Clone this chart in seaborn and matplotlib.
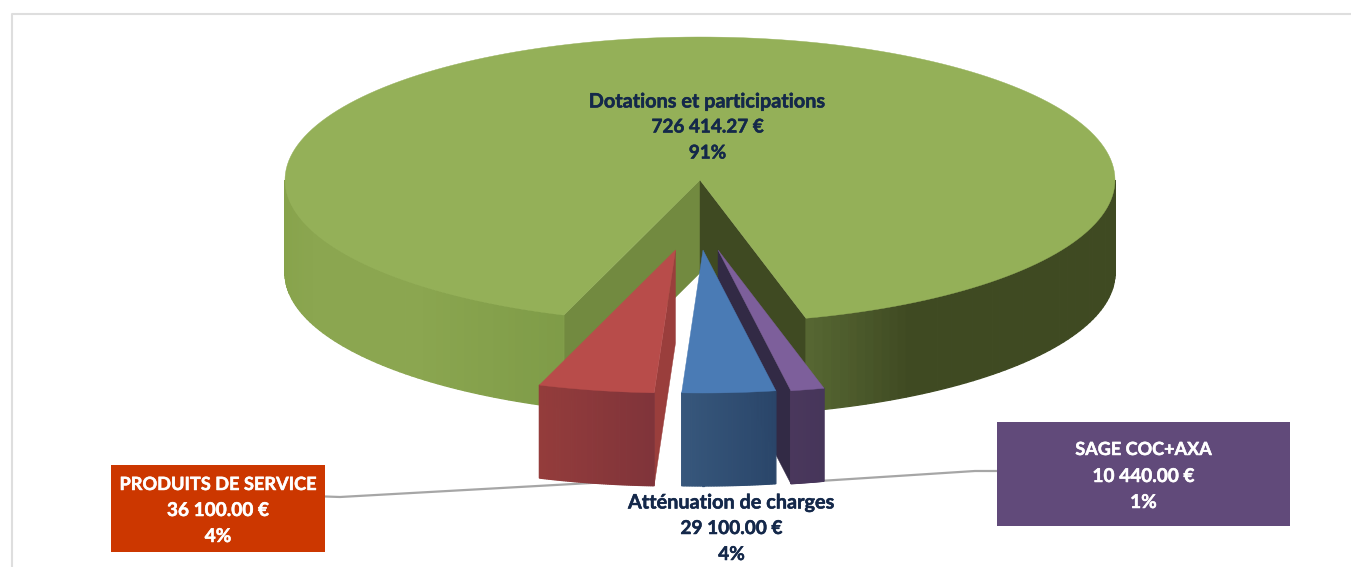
import numpy as np
import matplotlib
matplotlib.use('Agg')
import matplotlib.pyplot as plt
import matplotlib.patheffects as pe
from matplotlib.patches import Rectangle
import seaborn as sns

# Data
categories = ['Dotations et participations', 'PRODUITS DE SERVICE', 'Atténuation de charges', 'SAGE COC+AXA']
amounts = [726414.27, 36100.00, 29100.00, 10440.00]
amount_labels = ['726 414.27 €', '36 100.00 €', '29 100.00 €', '10 440.00 €']
percent_labels = ['91%', '4%', '4%', '1%']

# Geometry of the fake 3D pie, in pixels
CX, CY = 700, 180
RX, RY = 415, 143
DEPTH = 93
GAP_START = 14.8  # degrees from the bottom, positive to the right

sns.set_theme(style='white')
plt.rcParams['font.family'] = ['Lato', 'DejaVu Sans']

fig = plt.figure(figsize=(13.51, 5.67), dpi=100)
ax = fig.add_axes([0, 0, 1, 1])
ax.set_xlim(0, 1351)
ax.set_ylim(567, 0)
ax.axis('off')

# slice angles come from the values
sweep = np.array(amounts) / sum(amounts) * 360
sage_end = GAP_START - sweep[3]
att_end = sage_end - sweep[2]
prod_end = att_end - sweep[1]


def rim(t, ox=0, oy=0):
    t = np.radians(t)
    return CX + ox + RX * np.sin(t), CY + oy + RY * np.cos(t)


def top(t1, t2, color, ox=0, oy=0, z=2):
    t = np.linspace(t1, t2, 200)
    x, y = rim(t, ox, oy)
    ax.fill(np.r_[CX + ox, x], np.r_[CY + oy, y], color=color, lw=0.3, zorder=z)


def outer_wall(t1, t2, colors, ox=0, oy=0, z=2):
    t = np.linspace(t1, t2, 61)
    pal = sns.blend_palette(colors, len(t) - 1)
    x, y = rim(t, ox, oy)
    for i in range(len(t) - 1):
        ax.fill([x[i], x[i + 1], x[i + 1], x[i]],
                [y[i], y[i + 1], y[i + 1] + DEPTH, y[i] + DEPTH],
                color=pal[i], lw=0.9, zorder=z)


def radial_wall(t0, color, ox=0, oy=0, z=2):
    x, y = rim(t0, ox, oy)
    ax.fill([CX + ox, x, x, CX + ox],
            [CY + oy, y, y + DEPTH, CY + oy + DEPTH],
            color=color, lw=0.3, zorder=z)


# frame
ax.plot([12, 12, 1351], [567, 14, 14], color='#dedede', lw=1.5, zorder=1)

# leader lines
ax.plot([325, 340, 600], [496.5, 497, 482.5], color='#a6a6a6', lw=1.6, zorder=1.5)
ax.plot([804, 975, 997], [482, 471, 471], color='#a6a6a6', lw=1.6, zorder=1.5)

# main green slice
radial_wall(prod_end, '#728a40', z=2)
radial_wall(GAP_START, '#3f4a22', z=2)
outer_wall(-90, prod_end, ['#86a24a', '#8ba650', '#8ba650', '#7f9c48'], z=2)
outer_wall(GAP_START, 90, ['#566632', '#3f4a22', '#3f4a22', '#3f4a22', '#3f4a22', '#3f4a22'], z=2)
top(GAP_START, 360 + prod_end, '#94b058', z=3)

# red slice
ox, oy = -24.5, 70
radial_wall(att_end, '#9a3e3c', ox, oy, z=4)
outer_wall(prod_end, att_end, ['#943c3b', '#80343a'], ox, oy, z=4)
top(prod_end, att_end, '#b84c4a', ox, oy, z=5)

# purple slice
ox, oy = 18, 70
radial_wall(sage_end, '#322a45', ox, oy, z=4)
outer_wall(sage_end, GAP_START, ['#4a375c', '#46365a'], ox, oy, z=4)
top(sage_end, GAP_START, '#7d5f9b', ox, oy, z=5)

# blue slice
ox, oy = 3, 70
outer_wall(att_end, sage_end, ['#37577c', '#2a466a'], ox, oy, z=6)
top(att_end, sage_end, '#4a7bb5', ox, oy, z=7)

# label boxes
ax.add_patch(Rectangle((111, 465), 214, 87, color='#cc3700', lw=0, zorder=8))
ax.add_patch(Rectangle((997, 422), 293, 104, color='#614a7a', lw=0, zorder=8))

# labels: x, line centres, colour, font size of the name line, of the other lines
label_pos = [(707.5, [101.5, 127, 153], '#14284a', 14.3, 13.6),
             (218, [484.5, 510.5, 536.5], 'white', 13.1, 13.7),
             (731.5, [502.5, 528.5, 554.5], '#14284a', 14.3, 13.7),
             (1143.5, [449.5, 476.5, 502.5], 'white', 13.0, 13.7)]
for i, (x, ys, col, fs1, fs2) in enumerate(label_pos):
    lines = [categories[i], amount_labels[i], percent_labels[i]]
    for j, (line, y) in enumerate(zip(lines, ys)):
        ax.text(x, y, line, ha='center', va='center', color=col,
                fontsize=fs1 if j == 0 else fs2, fontweight='bold', zorder=9,
                path_effects=[pe.withStroke(linewidth=0.35, foreground=col)])

plt.savefig('out.png', dpi=100)
